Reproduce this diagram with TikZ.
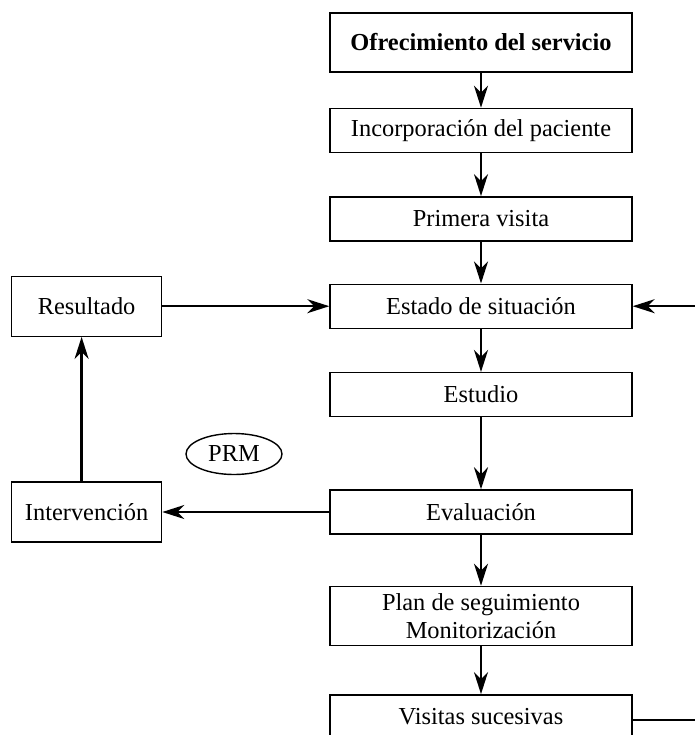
\documentclass[tikz,border=0pt]{standalone}
\usepackage{fontspec}
\setmainfont{Liberation Serif}
\usepackage{tikz}
\usetikzlibrary{arrows.meta,positioning,shapes.geometric}

\begin{document}
\begin{tikzpicture}[
  x=0.5pt, y=-0.5pt,
  box/.style={draw, line width=0.7pt, minimum width=151pt, minimum height=22pt,
    inner sep=1pt, font=\fontsize{12.2}{14}\selectfont, align=center},
  tall/.style={box, minimum height=29.5pt},
  side/.style={box, minimum width=75pt, minimum height=30pt},
  oval/.style={draw, ellipse, line width=0.7pt, minimum width=48pt, minimum height=20.5pt,
    inner sep=0pt, font=\fontsize{12.2}{14}\selectfont},
  arr/.style={-{Stealth[length=11pt, width=7pt, inset=3.5pt]}, line width=1.2pt},
  line/.style={line width=1.2pt},
]
\useasboundingbox (0,0) rectangle (695,735);
\clip (0,0) rectangle (695,735);

% main column
\node[tall] (ofr) at (481,42.5) {\bfseries Ofrecimiento del servicio};
\node[box, below=17.5pt of ofr]  (inc)  {Incorporación del paciente};
\node[box, below=21.5pt of inc]  (prim) {Primera visita};
\node[box, below=21pt of prim] (est) {Estado de situación};
\node[box, below=21.5pt of est]  (estu) {Estudio};
\node[box, below=36pt of estu] (eval) {Evaluación};
\node[tall, below=25.5pt of eval] (plan) {Plan de seguimiento\\Monitorización};
\node[box, below=24pt of plan] (vis)  {Visitas sucesivas};

\draw[arr] (ofr) -- (inc);
\draw[arr] (inc) -- (prim);
\draw[arr] (prim) -- (est);
\draw[arr] (est) -- (estu);
\draw[arr] (estu) -- (eval);
\draw[arr] (eval) -- (plan);
\draw[arr] (plan) -- (vis);

% loop on the left
\node[side, left=83.5pt of est]  (res) {Resultado};
\node[side, left=83.5pt of eval] (int) {Intervención};
\node[oval] (prm) at (234,454) {PRM};

\draw[arr] (eval) -- (int);
\draw[arr] ([xshift=-2.5pt]int.north) -- ([xshift=-2.5pt]res.south);
\draw[arr] (res) -- (est);

% return from the right edge
\coordinate (edge) at (700,0);
\coordinate (visout) at ([yshift=-1.5pt]vis.east);
\draw[arr] (edge |- est.east) -- (est.east);
\draw[line] (visout) -- (edge |- visout);

\end{tikzpicture}
\end{document}
